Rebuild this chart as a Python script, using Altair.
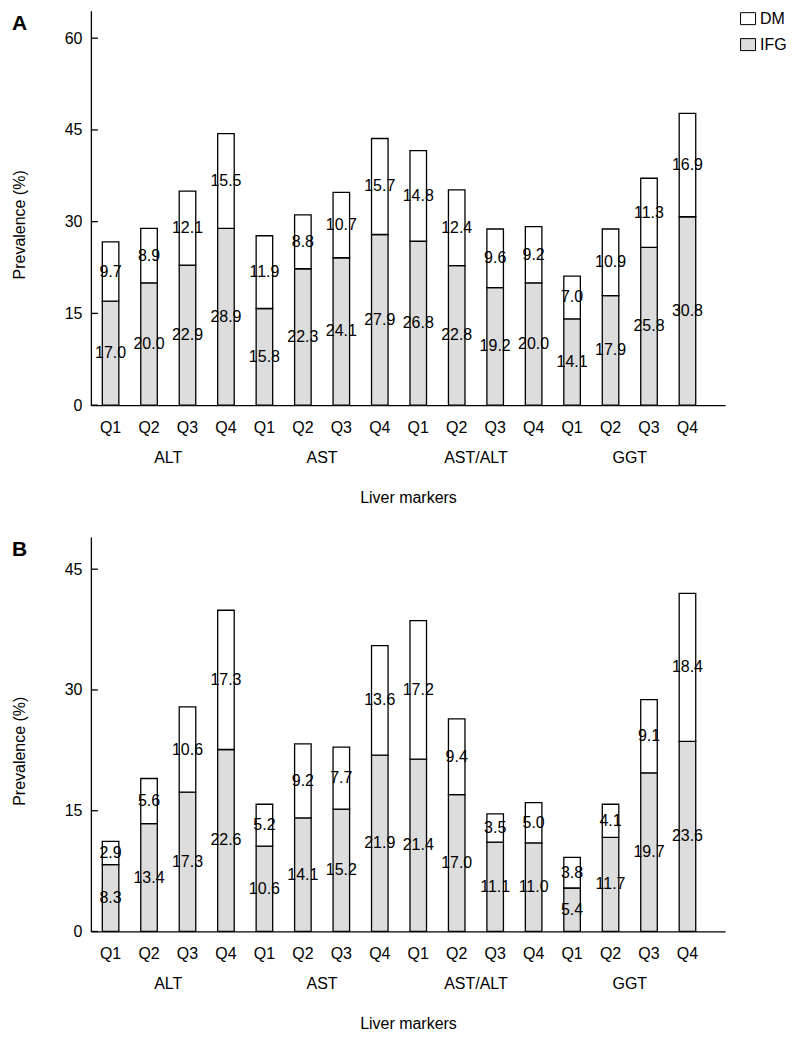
import altair as alt
import pandas as pd

groups = ["ALT", "AST", "AST/ALT", "GGT"]
quartiles = ["Q1", "Q2", "Q3", "Q4"]

a_ifg = [17.0, 20.0, 22.9, 28.9, 15.8, 22.3, 24.1, 27.9, 26.8, 22.8, 19.2, 20.0, 14.1, 17.9, 25.8, 30.8]
a_dm = [9.7, 8.9, 12.1, 15.5, 11.9, 8.8, 10.7, 15.7, 14.8, 12.4, 9.6, 9.2, 7.0, 10.9, 11.3, 16.9]
b_ifg = [8.3, 13.4, 17.3, 22.6, 10.6, 14.1, 15.2, 21.9, 21.4, 17.0, 11.1, 11.0, 5.4, 11.7, 19.7, 23.6]
b_dm = [2.9, 5.6, 10.6, 17.3, 5.2, 9.2, 7.7, 13.6, 17.2, 9.4, 3.5, 5.0, 3.8, 4.1, 9.1, 18.4]
a_ticks = [0, 15, 30, 45, 60]
b_ticks = [0, 15, 30, 45]
a_max = 64.5
b_max = 49

FONT = "Liberation Sans"
W, H = 635, 395
keys = [f"{g}|{q}" for g in groups for q in quartiles]


def long_table(ifg, dm):
    rows = []
    for k, i_v, d_v in zip(keys, ifg, dm):
        rows.append(dict(key=k, series="IFG", value=i_v, lo=0.0, hi=i_v, mid=i_v / 2))
        rows.append(dict(key=k, series="DM", value=d_v, lo=i_v, hi=i_v + d_v, mid=i_v + d_v / 2))
    return pd.DataFrame(rows)


def panel(ifg, dm, ticks, ymax, letter):
    df = long_table(ifg, dm)
    xscale = alt.Scale(domain=keys, paddingInner=0.57, paddingOuter=0.53, align=0.28)
    yscale = alt.Scale(domain=[0, ymax], nice=False, zero=True)
    xenc = alt.X(
        "key:N", sort=keys, scale=xscale,
        axis=alt.Axis(
            title="Liver markers", labelExpr="split(datum.label, '|')[1]",
            labelAngle=0, ticks=False, tickSize=0, labelPadding=14,
            titleY=92, titleBaseline="middle",
        ),
    )
    base = alt.Chart(df)
    bars = base.mark_bar(stroke="black", strokeWidth=1.3).encode(
        x=xenc,
        y=alt.Y("lo:Q", scale=yscale,
                axis=alt.Axis(title="Prevalence (%)", values=ticks, ticks=False, tickSize=0,
                              labelPadding=9, titleX=-71, titleY=214, titleAngle=270,
                              titleBaseline="middle", titleAlign="center")),
        y2="hi:Q",
        color=alt.Color("series:N", scale=alt.Scale(domain=["DM", "IFG"], range=["white", "#dddddd"]),
                        legend=alt.Legend(title=None, orient="none", legendX=650, legendY=0,
                                          symbolType="M-1,-0.8H1V0.8H-1Z", symbolSize=225,
                                          symbolStrokeColor="black", symbolStrokeWidth=1,
                                          labelFont=FONT, labelFontSize=16, labelOffset=4,
                                          rowPadding=10, padding=0)),
    )
    labels = base.mark_text(font=FONT, fontSize=16, color="black", baseline="middle").encode(
        x=alt.X("key:N", sort=keys, scale=xscale),
        y=alt.Y("mid:Q", scale=yscale),
        text=alt.Text("value:Q", format=".1f"),
    )
    gdf = pd.DataFrame({"key": [f"{g}|Q2" for g in groups], "label": groups})
    glabels = alt.Chart(gdf).mark_text(font=FONT, fontSize=16, color="black", dx=19.25,
                                       baseline="middle").encode(
        x=alt.X("key:N", sort=keys, scale=xscale),
        y=alt.value(H + 53),
        text="label:N",
    )
    tdf = pd.DataFrame({"t": ticks})
    tickmarks = alt.Chart(tdf).mark_rule(color="black", strokeWidth=1.3).encode(
        y=alt.Y("t:Q", scale=yscale), x=alt.value(0), x2=alt.value(7)
    )
    ldf = pd.DataFrame({"letter": [letter]})
    let = alt.Chart(ldf).mark_text(font=FONT, fontSize=21, fontWeight="bold", color="black",
                                   baseline="middle", align="center").encode(
        x=alt.value(-71.5), y=alt.value(13.5), text="letter:N"
    )
    return alt.layer(bars, labels, glabels, tickmarks, let).properties(width=W, height=H)


chart = alt.vconcat(
    panel(a_ifg, a_dm, a_ticks, a_max, "A"),
    panel(b_ifg, b_dm, b_ticks, b_max, "B"),
    spacing=32,
).properties(
    padding={"left": 3, "top": 2, "right": 0, "bottom": 0}
).configure_view(stroke=None).configure_axis(
    labelFont=FONT, titleFont=FONT, labelFontSize=16, titleFontSize=16,
    labelColor="black", titleColor="black", titleFontWeight="normal",
    domainColor="black", domainWidth=1.3, grid=False,
)

chart.save("out.html", embed_options={"renderer": "svg", "actions": False})
